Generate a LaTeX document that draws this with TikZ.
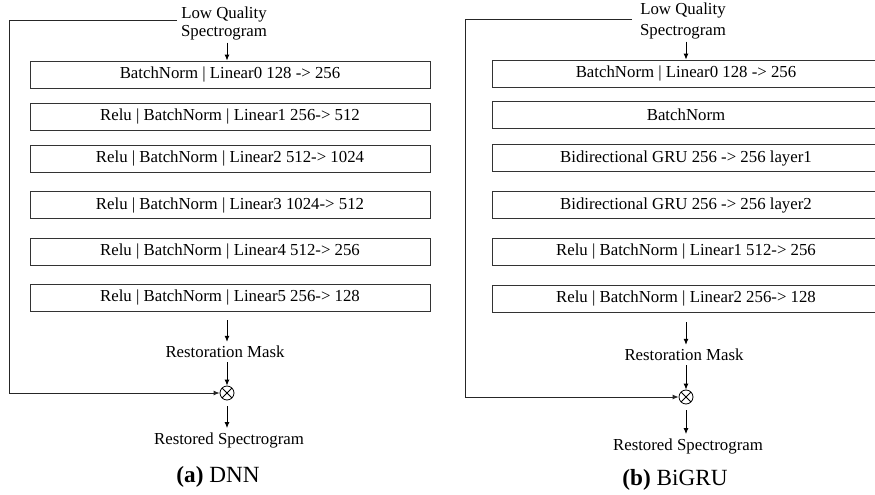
\documentclass[tikz,border=0pt]{standalone}
\usepackage{fontspec}
\setmainfont{Liberation Serif}
\usetikzlibrary{arrows.meta,calc}
\begin{document}
\begin{tikzpicture}[x=0.75pt,y=-0.75pt,
  every node/.style={font=\fontsize{12.6}{15}\selectfont, inner sep=0pt},
  blk/.style={draw=black!80, line width=0.6pt, minimum height=20.25pt},
  blka/.style={blk, minimum width=300pt},
  blkb/.style={blk, minimum width=291pt},
  arr/.style={line width=0.7pt, -{Latex[length=4.5pt,width=3.8pt]}},
  fb/.style={line width=0.7pt, black!85, -{Latex[length=4.5pt,width=3.8pt]}},
  mulnode/.style={draw, circle, line width=0.6pt, minimum size=10.5pt,
    path picture={\draw[line width=0.6pt] (path picture bounding box.north west) -- (path picture bounding box.south east)
      (path picture bounding box.north east) -- (path picture bounding box.south west);}},
  captext/.style={font=\fontsize{17.4}{20}\selectfont}
]
\useasboundingbox (0,0) rectangle (875,495);
\clip (0,0) rectangle (875,495);

% ---------- (a) DNN ----------
\node (lqa1) at (224,14) {Low Quality};
\node (lqa2) at (224,33) {Spectrogram};
\node[blka] (a1) at (230,74.5) {BatchNorm | Linear0 128 -> 256};
\node[blka] (a2) at (230,116.5) {Relu | BatchNorm | Linear1 256-> 512};
\node[blka] (a3) at (230,158.5) {Relu | BatchNorm | Linear2 512-> 1024};
\node[blka] (a4) at (230,205) {Relu | BatchNorm | Linear3 1024-> 512};
\node[blka] (a5) at (230,251.5) {Relu | BatchNorm | Linear4 512-> 256};
\node[blka] (a6) at (230,297.5) {Relu | BatchNorm | Linear5 256-> 128};
\node (rma) at (225,352) {Restoration Mask};
\node[mulnode] (mula) at (227,393) {};
\node (outa) at (229,440) {Restored Spectrogram};
\node[captext] (capa) at (218,477) {\textbf{(a)} DNN};
\coordinate (fa) at (177,20);

\draw[arr] ($(mula|-lqa2.south)+(0,2)$) -- (mula|-a1.north);
\draw[arr] ($(mula|-a6.south)+(0,9)$) -- ($(mula|-rma.north)+(0,-4)$);
\draw[arr] ($(mula|-rma.south)+(0,4)$) -- (mula.north);
\draw[arr] ($(mula.south)+(0,6)$) -- ($(mula|-outa.north)+(0,-4)$);
\draw[fb] (fa) -- ++(-168,0) |- (mula.west);

% ---------- (b) BiGRU ----------
\node (lqb1) at (683,10) {Low Quality};
\node (lqb2) at (683,32) {Spectrogram};
\node[blkb] (b1) at (686,73.5) {BatchNorm | Linear0 128 -> 256};
\node[blkb] (b2) at (686,115) {BatchNorm};
\node[blkb] (b3) at (686,158) {Bidirectional GRU 256 -> 256 layer1};
\node[blkb] (b4) at (686,205) {Bidirectional GRU 256 -> 256 layer2};
\node[blkb] (b5) at (686,251.5) {Relu | BatchNorm | Linear1 512-> 256};
\node[blkb] (b6) at (686,298.5) {Relu | BatchNorm | Linear2 256-> 128};
\node (rmb) at (684,355) {Restoration Mask};
\node[mulnode] (mulb) at (686,397) {};
\node (outb) at (688,446) {Restored Spectrogram};
\node[captext] (capb) at (675,480) {\textbf{(b)} BiGRU};
\coordinate (fbs) at (632,19);

\draw[arr] ($(mulb|-lqb2.south)+(0,2)$) -- (mulb|-b1.north);
\draw[arr] ($(mulb|-b6.south)+(0,10)$) -- ($(mulb|-rmb.north)+(0,-4)$);
\draw[arr] ($(mulb|-rmb.south)+(0,4)$) -- (mulb.north);
\draw[arr] ($(mulb.south)+(0,6)$) -- ($(mulb|-outb.north)+(0,-4)$);
\draw[fb] (fbs) -- ++(-167,0) |- (mulb.west);
\end{tikzpicture}
\end{document}
